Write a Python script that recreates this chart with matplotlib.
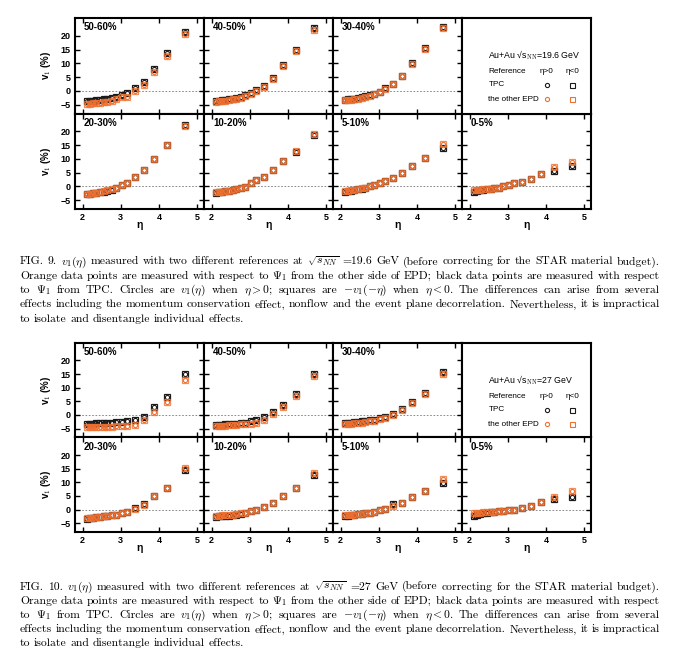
import matplotlib
matplotlib.use("Agg")
import matplotlib.pyplot as plt

W, H = 678, 659

eta = [2.12, 2.20, 2.28, 2.36, 2.45, 2.55, 2.65, 2.76, 2.88, 3.02, 3.17, 3.36, 3.60, 3.87, 4.20, 4.68]
centralities = ["50-60%", "40-50%", "30-40%", "20-30%", "10-20%", "5-10%", "0-5%"]

# v1 (%), one row per centrality (same order as above)
tpc_19 = [
    [-3.7, -3.6, -3.5, -3.4, -3.3, -3.1, -2.9, -2.6, -2.2, -1.5, -0.6, 1.2, 3.3, 8.0, 13.8, 21.5],
    [-3.6, -3.5, -3.4, -3.2, -3.0, -2.8, -2.5, -2.1, -1.6, -0.8, 0.3, 1.8, 4.6, 9.3, 15.0, 22.8],
    [-3.2, -3.1, -3.0, -2.8, -2.6, -2.3, -2.0, -1.6, -1.0, -0.3, 0.9, 2.6, 5.5, 10.0, 15.6, 23.3],
    [-2.9, -2.7, -2.5, -2.4, -2.2, -1.9, -1.5, -1.2, -0.7, 0.6, 1.4, 3.4, 5.8, 9.9, 14.9, 22.2],
    [-2.3, -2.1, -2.0, -1.8, -1.6, -1.3, -1.0, -0.6, -0.1, 1.3, 2.2, 3.6, 5.8, 9.2, 12.5, 18.8],
    [-2.0, -1.7, -1.5, -1.3, -1.1, -0.8, -0.5, 0.1, 0.7, 1.3, 1.9, 3.1, 4.8, 7.5, 10.2, 14.0],
    [-1.9, -1.6, -1.4, -1.2, -1.1, -0.9, -0.7, -0.4, 0.0, 0.6, 1.1, 1.7, 2.7, 4.6, 5.5, 7.3],
]
epd_19 = [
    [-4.6, -4.6, -4.5, -4.4, -4.3, -4.1, -3.9, -3.6, -3.1, -2.3, -2.1, -0.2, 2.2, 7.0, 12.8, 20.6],
    [-3.9, -3.8, -3.7, -3.5, -3.3, -3.1, -2.8, -2.4, -1.9, -1.1, 0.0, 1.5, 4.3, 9.0, 14.6, 22.3],
    [-3.4, -3.3, -3.2, -3.0, -2.8, -2.5, -2.2, -1.8, -1.2, -0.5, 0.7, 2.4, 5.3, 9.8, 15.4, 23.0],
    [-2.8, -2.7, -2.5, -2.3, -2.1, -1.8, -1.4, -1.1, -0.6, 0.5, 1.3, 3.3, 5.8, 9.9, 15.0, 21.8],
    [-2.1, -2.0, -1.9, -1.7, -1.5, -1.2, -0.9, -0.5, -0.1, 1.3, 2.2, 3.6, 5.8, 9.3, 12.7, 19.2],
    [-1.7, -1.5, -1.4, -1.2, -1.0, -0.7, -0.5, 0.2, 0.7, 1.3, 1.9, 3.1, 4.8, 7.5, 10.2, 15.4],
    [-1.4, -1.3, -1.2, -1.1, -1.0, -0.8, -0.6, -0.4, 0.0, 0.6, 1.1, 1.7, 2.7, 4.6, 7.0, 8.8],
]
tpc_27 = [
    [-3.4, -3.3, -3.2, -3.1, -3.0, -2.9, -2.9, -2.8, -2.7, -2.5, -2.4, -1.7, -0.6, 2.9, 6.4, 15.0],
    [-3.8, -3.7, -3.6, -3.5, -3.4, -3.3, -3.2, -3.0, -2.8, -2.3, -1.7, -0.7, 1.0, 3.6, 7.5, 15.0],
    [-3.0, -2.9, -2.8, -2.7, -2.6, -2.4, -2.2, -2.0, -1.7, -1.2, -0.6, 0.3, 2.1, 4.6, 8.0, 15.6],
    [-3.3, -3.1, -3.0, -2.8, -2.7, -2.5, -2.3, -2.1, -1.9, -1.2, -0.9, 0.7, 1.9, 4.9, 8.1, 14.5],
    [-2.6, -2.5, -2.4, -2.3, -2.2, -2.0, -1.8, -1.6, -1.3, -0.6, -0.1, 1.0, 2.5, 4.9, 7.9, 12.8],
    [-2.5, -2.2, -2.0, -1.9, -1.7, -1.5, -1.3, -1.1, -0.8, -0.1, 0.4, 1.9, 2.4, 4.7, 6.8, 9.7],
    [-2.2, -1.9, -1.6, -1.4, -1.2, -1.0, -0.8, -0.6, -0.4, -0.1, 0.0, 0.6, 1.2, 2.8, 4.0, 4.7],
]
epd_27 = [
    [-4.6, -4.6, -4.5, -4.5, -4.4, -4.4, -4.3, -4.3, -4.2, -4.1, -4.0, -3.6, -2.0, 1.2, 4.9, 12.8],
    [-4.0, -4.0, -3.9, -3.9, -3.8, -3.7, -3.6, -3.5, -3.4, -3.2, -2.9, -1.9, 0.2, 2.8, 6.8, 14.2],
    [-3.4, -3.3, -3.2, -3.1, -3.0, -2.8, -2.6, -2.4, -2.1, -1.6, -1.0, -0.1, 1.7, 4.2, 7.6, 15.0],
    [-3.1, -2.9, -2.9, -2.8, -2.6, -2.5, -2.3, -2.1, -1.9, -1.2, -1.0, 0.1, 1.8, 4.9, 8.1, 15.1],
    [-2.3, -2.2, -2.1, -2.0, -1.9, -1.8, -1.6, -1.4, -1.1, -0.5, 0.0, 1.0, 2.5, 4.9, 8.0, 13.6],
    [-2.0, -1.9, -1.8, -1.8, -1.6, -1.5, -1.3, -1.1, -0.8, -0.1, 0.4, 1.3, 2.4, 4.7, 6.8, 11.1],
    [-1.2, -1.1, -1.1, -1.0, -1.0, -0.9, -0.8, -0.6, -0.4, -0.1, 0.0, 0.6, 1.2, 2.8, 4.6, 6.7],
]

energies = ["19.6", "27"]
fig_numbers = ["9", "10"]
x_ticks = [2, 3, 4, 5]
y_ticks = [-5, 0, 5, 10, 15, 20]

caption_lines = [
    r"FIG. {n}. $v_1(\eta)$ measured with two different references at $\sqrt{{s_{{NN}}}}$ ={e} GeV (before correcting for the STAR material budget).",
    r"Orange data points are measured with respect to $\Psi_1$ from the other side of EPD; black data points are measured with respect",
    r"to $\Psi_1$ from TPC. Circles are $v_1(\eta)$ when $\eta > 0$; squares are $-v_1(-\eta)$ when $\eta < 0$. The differences can arise from several",
    r"effects including the momentum conservation effect, nonflow and the event plane decorrelation. Nevertheless, it is impractical",
    r"to isolate and disentangle individual effects.",
]

BLACK = "#1a1a1a"
ORANGE = "#f07030"
SANS = ["Liberation Sans", "DejaVu Sans"]

plt.rcParams["mathtext.fontset"] = "cm"

fig = plt.figure(figsize=(W / 100, H / 100), dpi=100)


def px_rect(x0, y0, x1, y1):
    return [x0 / W, 1 - y1 / H, (x1 - x0) / W, (y1 - y0) / H]


col_x = [75, 204, 333, 462, 591]
row_tops = [[18, 113.5, 209], [342.7, 437.3, 532]]


def style_panel(ax, bottom, left):
    ax.set_xlim(1.8, 5.18)
    ax.set_ylim(-8.2, 26.5)
    ax.set_xticks(x_ticks)
    ax.set_yticks(y_ticks)
    ax.tick_params(direction="in", length=3.5, width=1, top=True, right=True,
                   labelbottom=bottom, labelleft=left, labelsize=6.5, pad=3)
    for lab in ax.get_xticklabels() + ax.get_yticklabels():
        lab.set_family(SANS)
        lab.set_fontweight("bold")
    for s in ax.spines.values():
        s.set_linewidth(1.5)
    ax.axhline(0, color="#777777", lw=0.6, ls=(0, (2, 2)), zorder=1)


for f in range(2):
    tpc = [tpc_19, tpc_27][f]
    epd = [epd_19, epd_27][f]
    tops = row_tops[f]
    slots = [(0, 0), (0, 1), (0, 2), (1, 0), (1, 1), (1, 2), (1, 3)]
    for k, (r, c) in enumerate(slots):
        ax = fig.add_axes(px_rect(col_x[c], tops[r], col_x[c + 1], tops[r + 1]))
        style_panel(ax, bottom=(r == 1), left=(c == 0))
        ax.plot(eta, tpc[k], ls="none", marker="s", ms=4.8, mfc="none", mec=BLACK, mew=0.9, zorder=3)
        ax.plot(eta, tpc[k], ls="none", marker="o", ms=3.0, mfc="none", mec=BLACK, mew=0.8, zorder=3)
        ax.plot(eta, epd[k], ls="none", marker="s", ms=4.8, mfc="none", mec=ORANGE, mew=0.9,
                alpha=0.8, zorder=4)
        ax.plot(eta, epd[k], ls="none", marker="o", ms=3.0, mfc="none", mec=ORANGE, mew=0.8, zorder=4)
        ax.text(9 / 129, 1 - 9.3 / 95.5, centralities[k], transform=ax.transAxes, ha="left",
                va="center", fontsize=7, fontweight="bold", family=SANS)
        if c == 0:
            ax.set_ylabel(r"v$_{\mathbf{1}}$ (%)", fontsize=7, fontweight="bold", family=SANS)
            ax.yaxis.set_label_coords((53 - 75) / 129, 0.5)
        if r == 1:
            ax.set_xlabel("η", fontsize=7.5, fontweight="bold", family=SANS)
            ax.xaxis.set_label_coords(0.5, -0.12)

    # legend panel
    lax = fig.add_axes(px_rect(col_x[3], tops[0], col_x[4], tops[1]))
    lax.set_xticks([])
    lax.set_yticks([])
    lax.set_xlim(0, 1)
    lax.set_ylim(0, 1)
    for s in lax.spines.values():
        s.set_linewidth(1.5)

    def lpos(x, y):
        return (x - col_x[3]) / 129, 1 - (y - tops[0]) / (tops[1] - tops[0])

    fs = 5.9
    lax.text(*lpos(488.3, tops[0] + 37.7), "Au+Au √s$_{\\rm NN}$=" + energies[f] + " GeV",
             fontsize=6.3, va="center", ha="left", family=SANS)
    lax.text(*lpos(488.3, tops[0] + 53.3), "Reference", fontsize=fs, va="center", family=SANS)
    lax.text(*lpos(546.7, tops[0] + 53.3), "η>0", fontsize=fs, va="center", ha="center", family=SANS)
    lax.text(*lpos(572.3, tops[0] + 53.3), "η<0", fontsize=fs, va="center", ha="center", family=SANS)
    lax.text(*lpos(488.3, tops[0] + 67), "TPC", fontsize=fs, va="center", family=SANS)
    lax.text(*lpos(488.3, tops[0] + 81.3), "the other EPD", fontsize=fs, va="center", family=SANS)
    for (mx, mk, ms) in [(546.7, "o", 3.0), (572.3, "s", 3.6)]:
        x, y = lpos(mx, tops[0] + 67)
        lax.plot([x], [y], marker=mk, ms=ms, mfc="none", mec=BLACK, mew=0.8)
        x, y = lpos(mx, tops[0] + 81.3)
        lax.plot([x], [y], marker=mk, ms=ms, mfc="none", mec=ORANGE, mew=0.8)

# captions, justified word by word
renderer = fig.canvas.get_renderer()
cap_centers = [[261, 275.3, 289.6, 303.9, 318], [586, 600.3, 614.6, 628.9, 643]]
X0, X1 = 20, 660
CAP_FS = 8.4


def split_words(line):
    words, cur = [], ""
    for part in line.split(" "):
        if part == "":
            continue
        cur = part if cur == "" else cur + " " + part
        if cur.count("$") % 2 == 0:
            words.append(cur)
            cur = ""
    return words


for f in range(2):
    for i, line in enumerate(caption_lines):
        text = line.format(n=fig_numbers[f], e=energies[f]) if i == 0 else line
        words = split_words(text)
        yb = 1 - (cap_centers[f][i] + 3.5) / H
        arts = [fig.text(0, yb, w, fontsize=CAP_FS, family="cmr10", va="baseline", ha="left")
                for w in words]
        widths = [a.get_window_extent(renderer).width for a in arts]
        if i == len(caption_lines) - 1:
            gap = 3.6
        else:
            gap = (X1 - X0 - sum(widths)) / (len(words) - 1)
        x = X0
        for a, w in zip(arts, widths):
            a.set_x(x / W)
            x += w + gap

fig.savefig("out.png", dpi=100)
